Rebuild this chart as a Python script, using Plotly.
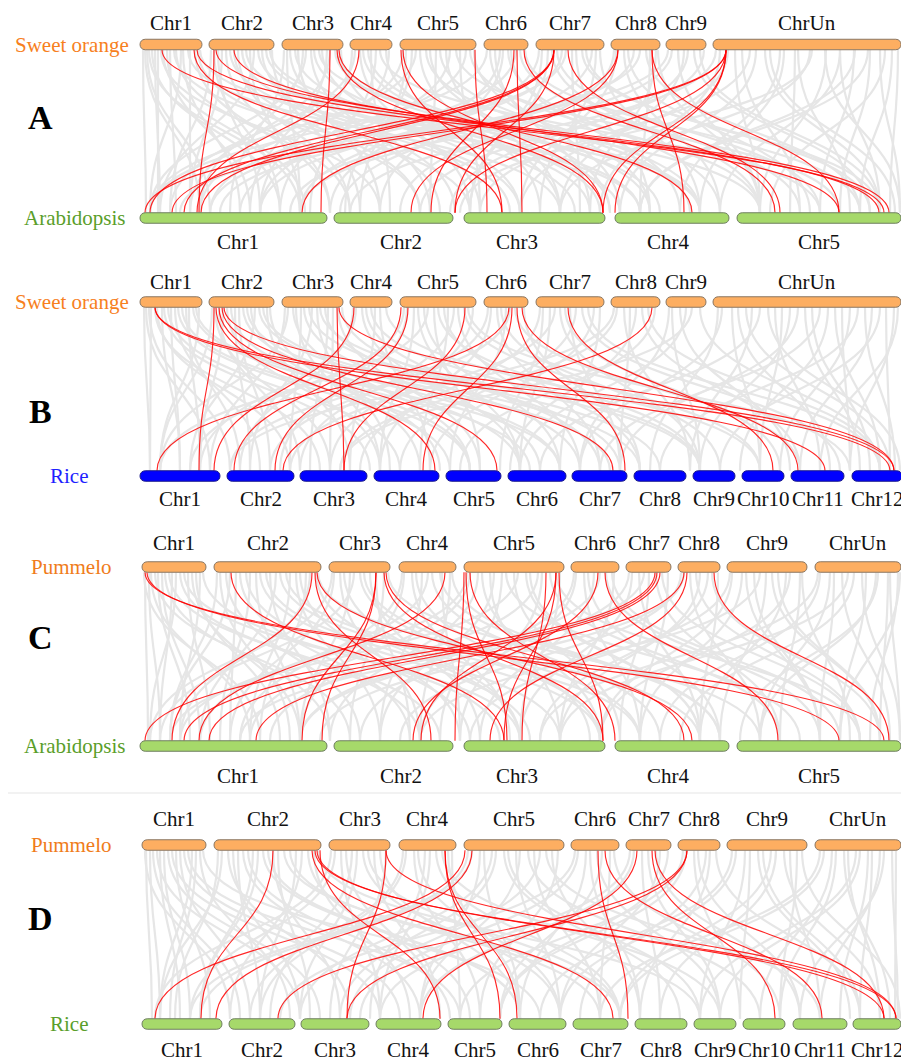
import plotly.graph_objects as go

W, H = 909, 1061
PAGE_OFFSET = 8  # browser default body margin; axes are set so data units equal page pixels

# ---------------- chromosome layouts (x in figure units) ----------------
orange_names = ["Chr1", "Chr2", "Chr3", "Chr4", "Chr5", "Chr6", "Chr7", "Chr8", "Chr9", "ChrUn"]
sweet_start = [140, 209, 282, 350, 400, 484, 536, 611, 666, 713]
sweet_end = [202, 274, 343, 392, 476, 528, 604, 660, 706, 901]
pum_start = [142, 214, 329, 399, 464, 571, 626, 678, 727, 815]
pum_end = [206, 321, 390, 456, 564, 619, 671, 720, 807, 901]

arab_names = ["Chr1", "Chr2", "Chr3", "Chr4", "Chr5"]
arab_start = [140, 334, 464, 615, 737]
arab_end = [327, 453, 605, 729, 901]
arab_label_x = [238, 401, 517, 668, 819]

rice_names = ["Chr1", "Chr2", "Chr3", "Chr4", "Chr5", "Chr6", "Chr7", "Chr8", "Chr9", "Chr10", "Chr11", "Chr12"]
riceB_start = [140, 227, 300, 374, 446, 508, 572, 634, 693, 742, 791, 852]
riceB_end = [220, 294, 367, 439, 501, 566, 627, 686, 735, 784, 844, 902]
riceD_start = [142, 229, 301, 376, 448, 509, 573, 635, 694, 743, 793, 853]
riceD_end = [222, 295, 369, 441, 502, 566, 628, 687, 736, 785, 847, 901]

# ---------------- red (highlighted) collinear links: top x, bottom x ----------------
red_a_top = [162, 194, 197, 214, 216, 234, 330, 337, 339, 359, 401, 403, 475, 514, 517, 524,
             554, 554, 554, 554, 568, 618, 618, 652, 652, 726, 726, 726, 726, 726]
red_a_bot = [884, 502, 879, 199, 889, 839, 321, 603, 692, 197, 502, 603, 487, 431, 522, 775,
             150, 184, 201, 455, 780, 411, 302, 684, 839, 145, 172, 455, 603, 615]

red_b_top = [155, 214, 216, 219, 222, 224, 337, 339, 354, 401, 408, 465, 509, 512, 517, 568, 652, 522, 155]
red_b_bot = [825, 199, 435, 497, 613, 894, 344, 894, 214, 234, 275, 344, 157, 423, 625, 773, 283, 798, 890]

red_c_top = [145, 147, 231, 312, 315, 317, 376, 384, 386, 445, 464, 466, 470, 546, 556, 556,
             559, 598, 605, 655, 657, 660, 684, 687, 714, 376]
red_c_bot = [884, 839, 504, 172, 431, 692, 302, 603, 684, 199, 455, 507, 615, 522, 421, 504,
             603, 413, 778, 145, 184, 209, 256, 490, 889, 322]

red_d_top = [273, 312, 315, 317, 320, 386, 386, 445, 465, 472, 598, 605, 637, 652, 655, 687, 687, 445]
red_d_bot = [201, 613, 896, 884, 440, 347, 896, 500, 155, 216, 628, 822, 423, 775, 884, 347, 278, 517]

# ---------------- grey background links: top x, bottom x ----------------
gray_a_top = [143, 147, 152, 158, 163, 170, 176, 183, 190, 198,
              211, 218, 226, 234, 242, 250, 258, 266, 272,
              284, 290, 298, 306, 314, 322, 330, 338,
              352, 360, 368, 376, 386,
              403, 412, 420, 430, 440, 450, 460, 470,
              487, 495, 503, 511, 520,
              539, 548, 557, 566, 576, 586, 596,
              614, 624, 634, 646, 656,
              668, 678, 688, 700,
              716, 728, 742, 756, 770, 784, 798, 812, 826, 840, 854, 868, 880, 892,
              145, 149, 155, 161, 167, 174, 181, 188, 195, 200,
              214, 222, 230, 238, 246, 254, 262, 270,
              287, 295, 303, 311, 319, 327, 335, 341,
              355, 363, 371, 380, 389,
              406, 416, 426, 436, 446, 456, 466, 474,
              490, 500, 508, 516, 525,
              542, 552, 562, 572, 582, 592, 600,
              616, 628, 640, 650, 658,
              672, 684, 694, 704,
              720, 735, 750, 765, 780, 795, 810, 825, 840, 855, 870, 885, 898]
gray_a_bot = [146, 210, 280, 158, 305, 176, 350, 240, 190, 420,
              170, 260, 330, 420, 520, 300, 575, 640, 360,
              230, 455, 380, 150, 600, 520, 190, 700,
              260, 470, 650, 310, 560,
              200, 345, 540, 610, 700, 260, 480, 760,
              150, 590, 380, 680, 800,
              300, 470, 820, 210, 650, 870, 540,
              400, 720, 290, 860, 590,
              180, 760, 450, 880,
              350, 520, 800, 620, 895, 700, 850, 460, 760, 880, 820, 640, 900, 860,
              200, 300, 160, 380, 250, 470, 150, 560, 330, 640,
              280, 190, 510, 350, 620, 160, 440, 700,
              300, 590, 200, 430, 760, 250, 660, 480,
              170, 610, 390, 820, 280,
              360, 150, 690, 430, 560, 840, 210, 650,
              620, 330, 720, 240, 860,
              470, 760, 260, 580, 880, 340, 700,
              520, 810, 220, 640, 760,
              300, 560, 870, 420,
              600, 760, 480, 880, 680, 790, 560, 900, 720, 640, 840, 770, 890]

gray_b_top = [144, 149, 155, 162, 168, 175, 182, 189, 196,
              212, 219, 227, 235, 243, 251, 259, 267,
              285, 293, 301, 309, 317, 325, 333,
              353, 362, 371, 380,
              404, 414, 424, 434, 444, 454, 464,
              488, 497, 506, 515,
              540, 550, 560, 570, 582, 594,
              614, 624, 636, 648,
              669, 680, 692,
              718, 732, 746, 760, 775, 790, 805, 820, 835, 850, 865, 880, 894,
              146, 151, 157, 164, 171, 178, 186, 193, 199,
              215, 223, 231, 239, 247, 255, 263, 270,
              288, 296, 304, 312, 320, 328, 338, 342,
              356, 366, 375, 386,
              407, 418, 428, 438, 448, 458, 468, 473,
              491, 501, 510, 524,
              543, 555, 565, 576, 588, 600,
              617, 630, 642, 655,
              672, 686, 700,
              722, 738, 752, 768, 782, 798, 812, 828, 842, 858, 872, 886, 898]
gray_b_bot = [150, 230, 320, 180, 400, 260, 470, 200, 560,
              160, 300, 380, 250, 520, 440, 610, 350,
              210, 470, 290, 660, 390, 580, 330,
              240, 520, 700, 430,
              190, 380, 560, 480, 640, 300, 760,
              270, 600, 450, 800,
              360, 520, 700, 620, 840, 430,
              230, 690, 510, 880,
              580, 790, 340,
              650, 760, 890, 540, 820, 700, 860, 600, 880, 780, 895, 720, 850,
              210, 150, 290, 370, 180, 450, 240, 530, 160,
              330, 200, 470, 270, 560, 190, 640, 420,
              160, 380, 540, 250, 700, 310, 480, 620,
              200, 600, 350, 760,
              280, 520, 160, 700, 420, 580, 850, 330,
              380, 720, 230, 640,
              500, 290, 780, 400, 880, 560,
              340, 620, 800, 460,
              700, 520, 880,
              580, 830, 690, 900, 760, 620, 870, 740, 850, 660, 800, 890, 820]

gray_c_top = [145, 151, 158, 165, 172, 180, 188, 196, 203,
              217, 226, 236, 246, 256, 266, 276, 286, 296, 306, 316,
              332, 340, 350, 360, 370, 384,
              402, 412, 422, 432, 442, 452,
              467, 478, 490, 502, 514, 526, 538, 550, 560,
              574, 584, 594, 606, 614,
              629, 639, 649, 662,
              681, 690, 700, 712,
              730, 742, 754, 766, 778, 790, 802,
              818, 830, 842, 854, 866, 878, 890, 898,
              144, 149, 155, 162, 169, 176, 184, 192, 200,
              220, 230, 240, 250, 260, 270, 280, 290, 300, 310, 318,
              334, 344, 354, 364, 376, 388,
              404, 416, 428, 440, 450,
              470, 482, 494, 506, 518, 530, 542, 556,
              576, 588, 600, 612,
              632, 644, 656, 668,
              684, 696, 708, 718,
              732, 746, 760, 772, 786, 800,
              820, 834, 848, 862, 876, 888, 900]
gray_c_bot = [148, 250, 190, 330, 160, 420, 210, 280, 500,
              170, 360, 230, 470, 300, 560, 200, 640, 380, 260, 520,
              150, 420, 300, 600, 480, 350,
              240, 510, 380, 660, 460, 720,
              180, 330, 560, 440, 620, 700, 270, 780, 520,
              360, 640, 480, 820, 560,
              300, 700, 620, 860,
              400, 760, 560, 880,
              470, 640, 820, 720, 880, 600, 850,
              540, 760, 890, 680, 840, 740, 900, 870,
              260, 160, 350, 200, 440, 150, 520, 300, 180,
              290, 170, 410, 220, 530, 330, 600, 250, 460, 180, 700,
              230, 520, 160, 640, 410, 760,
              300, 590, 200, 720, 420,
              250, 600, 380, 800, 170, 700, 460, 860,
              420, 720, 300, 840,
              520, 240, 780, 640,
              320, 860, 540, 700,
              600, 820, 420, 880, 700, 780,
              660, 820, 560, 900, 760, 880, 840]

gray_d_top = [146, 153, 160, 168, 176, 184, 192, 200,
              218, 228, 238, 248, 258, 268, 278, 290, 302, 314,
              331, 341, 352, 363, 374, 386,
              403, 414, 425, 436, 448,
              468, 480, 492, 504, 516, 528, 540, 552,
              575, 586, 597, 610,
              630, 642, 656, 668,
              683, 694, 706, 716,
              732, 745, 758, 771, 784, 797,
              820, 832, 844, 856, 868, 880, 892,
              145, 150, 157, 164, 172, 180, 188, 196, 203,
              222, 233, 243, 253, 263, 273, 284, 296, 308, 318,
              335, 346, 357, 368, 380,
              406, 418, 430, 442, 452,
              472, 484, 496, 508, 520, 534, 546, 558,
              578, 590, 602, 614,
              634, 648, 660,
              686, 698, 710,
              736, 750, 763, 776, 790, 802,
              824, 836, 848, 860, 872, 884, 896]
gray_d_bot = [152, 240, 180, 320, 210, 400, 160, 290,
              175, 350, 260, 450, 200, 520, 310, 600, 230, 410,
              155, 380, 270, 560, 440, 330,
              250, 480, 370, 620, 520,
              190, 420, 300, 680, 560, 760, 350, 640,
              280, 520, 720, 600,
              380, 660, 800, 500,
              460, 740, 580, 860,
              540, 700, 850, 620, 880, 780,
              600, 760, 890, 700, 840, 820, 898,
              230, 160, 300, 190, 380, 250, 460, 170, 540,
              160, 300, 420, 200, 520, 340, 620, 260, 470, 700,
              190, 440, 300, 620, 520,
              260, 560, 380, 720, 460,
              200, 520, 340, 700, 420, 600, 820, 480,
              360, 640, 500, 780,
              420, 720, 560,
              500, 800, 640,
              560, 740, 860, 660, 820, 900,
              620, 780, 880, 720, 860, 800, 895]

# ---------------- panel configuration ----------------
ORANGE_FILL, ORANGE_LINE = "#FDAE61", "#8a7763"
GREEN_FILL, GREEN_LINE = "#A6D96A", "#6f7f60"
BLUE_FILL, BLUE_LINE = "#0000FF", "#1a1a8a"

panels = [
    dict(letter="A", letter_y=117,
         top=dict(name="Sweet orange", color="#F7801E", label_xr=131, y=44.5, names=orange_names,
                  start=sweet_start, end=sweet_end, fill=ORANGE_FILL, line=ORANGE_LINE, lab_y=23, lab_x=None),
         bot=dict(name="Arabidopsis", color="#5A9E2A", label_xr=128, y=218, names=arab_names,
                  start=arab_start, end=arab_end, fill=GREEN_FILL, line=GREEN_LINE, lab_y=242, lab_x=arab_label_x),
         red=(red_a_top, red_a_bot), gray=(gray_a_top, gray_a_bot)),
    dict(letter="B", letter_y=411,
         top=dict(name="Sweet orange", color="#F7801E", label_xr=131, y=302, names=orange_names,
                  start=sweet_start, end=sweet_end, fill=ORANGE_FILL, line=ORANGE_LINE, lab_y=282, lab_x=None),
         bot=dict(name="Rice", color="#1F1FFF", label_xr=90, y=476, names=rice_names,
                  start=riceB_start, end=riceB_end, fill=BLUE_FILL, line=BLUE_LINE, lab_y=499, lab_x=None),
         red=(red_b_top, red_b_bot), gray=(gray_b_top, gray_b_bot)),
    dict(letter="C", letter_y=637,
         top=dict(name="Pummelo", color="#F07C1A", label_xr=114, y=567, names=orange_names,
                  start=pum_start, end=pum_end, fill=ORANGE_FILL, line=ORANGE_LINE, lab_y=543, lab_x=None),
         bot=dict(name="Arabidopsis", color="#5A9E2A", label_xr=128, y=746, names=arab_names,
                  start=arab_start, end=arab_end, fill=GREEN_FILL, line=GREEN_LINE, lab_y=776, lab_x=arab_label_x),
         red=(red_c_top, red_c_bot), gray=(gray_c_top, gray_c_bot)),
    dict(letter="D", letter_y=918,
         top=dict(name="Pummelo", color="#F07C1A", label_xr=114, y=845, names=orange_names,
                  start=pum_start, end=pum_end, fill=ORANGE_FILL, line=ORANGE_LINE, lab_y=819, lab_x=None),
         bot=dict(name="Rice", color="#5A9E2A", label_xr=90, y=1024, names=rice_names,
                  start=riceD_start, end=riceD_end, fill=GREEN_FILL, line=GREEN_LINE, lab_y=1050, lab_x=None),
         red=(red_d_top, red_d_bot), gray=(gray_d_top, gray_d_bot)),
]

BAR_H = 10.5
FONT = "Liberation Serif, Times New Roman, serif"


def link_path(x0, y0, x1, y1):
    ym = (y0 + y1) / 2
    return f"M {x0},{y0} C {x0},{ym} {x1},{ym} {x1},{y1}"


def bar_path(x0, x1, yc, h):
    r = h / 2
    yt, yb = yc - r, yc + r
    k = 1.33 * r
    return (f"M {x0 + r},{yt} L {x1 - r},{yt} "
            f"C {x1 - r + k},{yt} {x1 - r + k},{yb} {x1 - r},{yb} "
            f"L {x0 + r},{yb} "
            f"C {x0 + r - k},{yb} {x0 + r - k},{yt} {x0 + r},{yt} Z")


shapes = []
annotations = []

# separator between panels C and D
shapes.append(dict(type="line", xref="x", yref="y", x0=0, x1=W, y0=793, y1=793,
                   line=dict(color="#e6e6e6", width=1.2), layer="below"))

for p in panels:
    t, b = p["top"], p["bot"]
    y0 = t["y"] + BAR_H / 2
    y1 = b["y"] - BAR_H / 2
    for xa, xb in zip(*p["gray"]):
        shapes.append(dict(type="path", xref="x", yref="y", path=link_path(xa, y0, xb, y1),
                           line=dict(color="#e6e6e6", width=2.2), layer="above"))
    for xa, xb in zip(*p["red"]):
        shapes.append(dict(type="path", xref="x", yref="y", path=link_path(xa, y0, xb, y1),
                           line=dict(color="rgba(255,0,0,0.85)", width=1.15), layer="above"))
    for side in (t, b):
        for i, (s, e) in enumerate(zip(side["start"], side["end"])):
            shapes.append(dict(type="path", xref="x", yref="y", path=bar_path(s, e, side["y"], BAR_H),
                               fillcolor=side["fill"], line=dict(color=side["line"], width=1), layer="above"))
            lx = side["lab_x"][i] if side["lab_x"] else (s + e) / 2
            annotations.append(dict(x=lx, y=side["lab_y"], xref="x", yref="y", text=side["names"][i],
                                    showarrow=False, font=dict(family=FONT, size=21, color="#111111"),
                                    xanchor="center", yanchor="middle"))
        annotations.append(dict(x=side["label_xr"], y=side["y"], xref="x", yref="y", text=side["name"],
                                showarrow=False, font=dict(family=FONT, size=21, color=side["color"]),
                                xanchor="right", yanchor="middle"))
    annotations.append(dict(x=40, y=p["letter_y"], xref="x", yref="y", text=f"<b>{p['letter']}</b>",
                            showarrow=False, font=dict(family=FONT, size=34, color="#000000"),
                            xanchor="center", yanchor="middle"))

fig = go.Figure()
fig.add_trace(go.Scatter(x=[PAGE_OFFSET, W], y=[PAGE_OFFSET, H], mode="markers", marker=dict(opacity=0),
                         hoverinfo="skip", showlegend=False))
fig.update_layout(
    width=W - PAGE_OFFSET, height=H - PAGE_OFFSET,
    margin=dict(l=0, r=0, t=0, b=0),
    paper_bgcolor="white", plot_bgcolor="white",
    xaxis=dict(range=[PAGE_OFFSET, W], visible=False, fixedrange=True),
    yaxis=dict(range=[H, PAGE_OFFSET], visible=False, fixedrange=True),
    shapes=shapes, annotations=annotations, showlegend=False,
)
fig.write_html("out.html")
